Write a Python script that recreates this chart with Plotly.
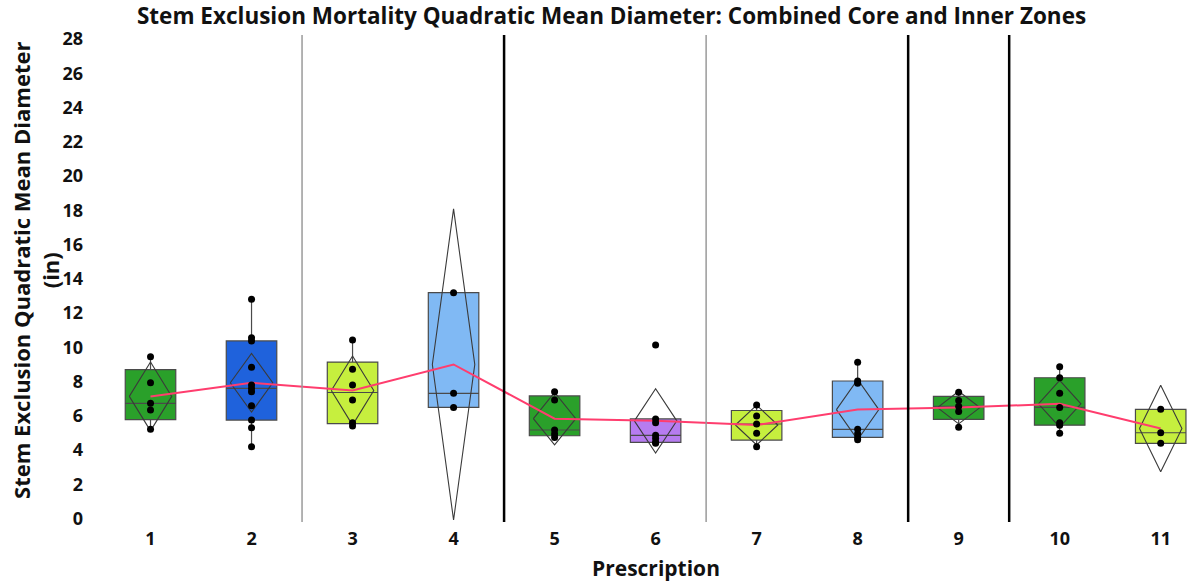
import plotly.graph_objects as go

# Prescription groups and the individual plot values (in)
prescriptions = [1, 2, 3, 4, 5, 6, 7, 8, 9, 10, 11]
p1 = [9.45, 7.93, 6.73, 6.34, 5.21]
p2 = [12.8, 10.56, 10.37, 8.83, 7.80, 7.60, 7.41, 6.59, 5.75, 5.30, 4.19]
p3 = [10.42, 8.71, 7.80, 6.92, 5.59, 5.40]
p4 = [13.19, 7.31, 6.49]
p5 = [7.40, 6.92, 5.17, 4.93, 4.74]
p6 = [10.13, 5.82, 5.59, 4.86, 4.68, 4.45, 4.40]
p7 = [6.63, 5.99, 5.52, 4.98, 4.19]
p8 = [9.12, 8.03, 7.90, 5.21, 4.95, 4.74, 4.60]
p9 = [7.37, 6.90, 6.55, 6.25, 5.33]
p10 = [8.86, 8.22, 7.31, 6.49, 5.60, 5.45, 4.98]
p11 = [6.38, 5.01, 4.39]
groups = [p1, p2, p3, p4, p5, p6, p7, p8, p9, p10, p11]

box_colors = ["#2aa02a", "#1f62dc", "#c6ef3e", "#80b9f4", "#2aa02a", "#b67cf0",
              "#c6ef3e", "#80b9f4", "#2aa02a", "#2aa02a", "#c6ef3e"]

# separators between prescription blocks
thin_seps = [2.5, 6.5]
thick_seps = [4.5, 8.5, 9.5]

y_ticks = list(range(0, 29, 2))

# two-sided 95% t values by degrees of freedom
t975 = {1: 12.706, 2: 4.303, 3: 3.182, 4: 2.776, 5: 2.571, 6: 2.447,
        7: 2.365, 8: 2.306, 9: 2.262, 10: 2.228, 11: 2.201, 12: 2.179}


def quantile(vals, p):
    # JMP style: position (n+1)p
    s = sorted(vals)
    n = len(s)
    pos = (n + 1) * p
    if pos <= 1:
        return s[0]
    if pos >= n:
        return s[-1]
    i = int(pos)
    f = pos - i
    return s[i - 1] + f * (s[i] - s[i - 1])


fig = go.Figure()

means = []
for x, vals, col in zip(prescriptions, groups, box_colors):
    q1 = quantile(vals, 0.25)
    med = quantile(vals, 0.5)
    q3 = quantile(vals, 0.75)
    iqr = q3 - q1
    hi = max(v for v in vals if v <= q3 + 1.5 * iqr)
    lo = min(v for v in vals if v >= q1 - 1.5 * iqr)
    fig.add_trace(go.Box(x=[x], q1=[q1], median=[med], q3=[q3],
                         lowerfence=[lo], upperfence=[hi], width=0.5,
                         fillcolor=col, line=dict(color="#4a4a4a", width=1.2),
                         whiskerwidth=0, boxpoints=False, hoverinfo="skip"))

    # means diamond: 95% confidence interval of the group mean
    n = len(vals)
    m = sum(vals) / n
    sd = (sum((v - m) ** 2 for v in vals) / (n - 1)) ** 0.5
    h = t975[n - 1] * sd / n ** 0.5
    means.append(m)
    w = 0.21
    fig.add_trace(go.Scatter(x=[x - w, x, x + w, x, x - w], y=[m, m + h, m, m - h, m],
                             mode="lines", line=dict(color="#3a3a3a", width=1.1),
                             hoverinfo="skip"))

fig.add_trace(go.Scatter(x=prescriptions, y=means, mode="lines",
                         line=dict(color="#ff3d6e", width=2)))

for x, vals in zip(prescriptions, groups):
    fig.add_trace(go.Scatter(x=[x] * len(vals), y=vals, mode="markers",
                             marker=dict(color="black", size=7)))

for s in thin_seps:
    fig.add_shape(type="line", xref="x", yref="paper", x0=s, x1=s, y0=0, y1=1,
                  line=dict(color="#9a9a9a", width=1.5))
for s in thick_seps:
    fig.add_shape(type="line", xref="x", yref="paper", x0=s, x1=s, y0=0, y1=1,
                  line=dict(color="black", width=2.5))

dark = "#111111"

fig.update_layout(
    width=1190, height=585,
    margin=dict(l=100, r=0, t=35, b=63),
    paper_bgcolor="white", plot_bgcolor="white",
    showlegend=False,
    font=dict(family="Open Sans", size=18, color=dark),
    title=dict(text="<b>Stem Exclusion Mortality Quadratic Mean Diameter: Combined Core and Inner Zones</b>",
               x=0.5139, xanchor="center", xref="container",
               y=0.9726, yanchor="middle", yref="container",
               font=dict(family="Open Sans", size=22.5, color=dark)),
    xaxis=dict(range=[0.5, 11.29], tickvals=prescriptions,
               ticktext=[f"<b>{p}</b>" for p in prescriptions],
               showgrid=False, zeroline=False, showline=False, ticks="",
               ticklabelstandoff=4, automargin=False),
    yaxis=dict(range=[-0.2, 28.23], tickvals=y_ticks,
               ticktext=[f"<b>{t}</b>" for t in y_ticks],
               showgrid=False, zeroline=False, showline=False, ticks="",
               ticklabelstandoff=16, automargin=False),
    annotations=[
        dict(text="<b>Prescription</b>", x=6, xref="x", y=-0.095, yref="paper",
             yanchor="middle", showarrow=False,
             font=dict(family="Open Sans", size=21, color=dark)),
        dict(text="<b>Stem Exclusion Quadratic Mean Diameter<br>(in)</b>",
             x=-0.059, xref="paper", y=0.517, yref="paper", textangle=-90,
             showarrow=False, xanchor="center", yanchor="middle",
             font=dict(family="Open Sans", size=22, color=dark)),
    ],
)

# drop the page's default body margin so the figure sits at the window corner
fig.write_html("out.html", config={"displayModeBar": False},
               post_script="document.body.style.margin='0';")
